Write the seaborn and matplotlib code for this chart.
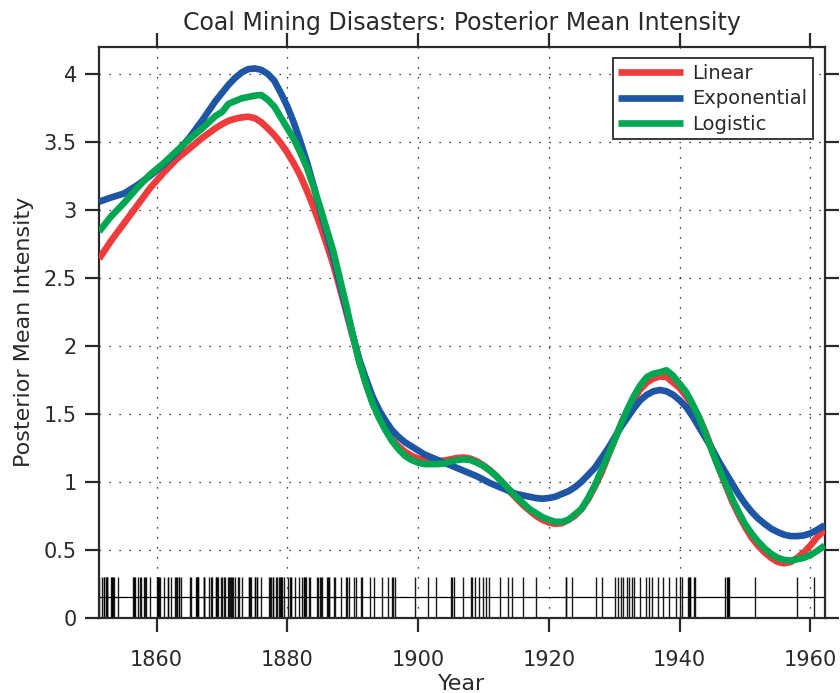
import matplotlib
matplotlib.use("Agg")
import matplotlib.pyplot as plt
import seaborn as sns
import pandas as pd

# ---------------- data ----------------
years_linear = [1851.2, 1853, 1855, 1857, 1859, 1861, 1863, 1865, 1867, 1869, 1870, 1871, 1872,
                1873, 1874, 1875, 1876, 1877, 1878, 1879, 1880, 1881, 1882, 1883, 1884, 1885,
                1886, 1887, 1888, 1889, 1890, 1891, 1892, 1893, 1894, 1895, 1896, 1897, 1898,
                1899, 1900, 1902, 1904, 1905, 1906, 1907, 1908, 1909, 1910, 1911, 1912, 1913,
                1914, 1915, 1916, 1917, 1918, 1919, 1920, 1921, 1922, 1923, 1924, 1925, 1926,
                1927, 1928, 1929, 1930, 1931, 1932, 1933, 1934, 1935, 1936, 1937, 1938, 1939,
                1940, 1941, 1942, 1943, 1944, 1945, 1946, 1947, 1948, 1949, 1950, 1951, 1952,
                1953, 1954, 1955, 1956, 1957, 1958, 1959, 1960, 1961, 1962.2]
linear = [2.64, 2.77, 2.90, 3.03, 3.16, 3.27, 3.37, 3.45, 3.53, 3.60, 3.63, 3.655, 3.67,
          3.68, 3.685, 3.675, 3.645, 3.60, 3.55, 3.49, 3.42, 3.34, 3.25, 3.14, 3.02, 2.89,
          2.75, 2.60, 2.43, 2.25, 2.07, 1.89, 1.73, 1.59, 1.48, 1.39, 1.31, 1.26, 1.22,
          1.19, 1.17, 1.15, 1.155, 1.165, 1.175, 1.178, 1.17, 1.15, 1.12, 1.085, 1.04, 0.99,
          0.93, 0.88, 0.83, 0.79, 0.75, 0.72, 0.70, 0.69, 0.695, 0.72, 0.75, 0.80, 0.87,
          0.96, 1.06, 1.18, 1.30, 1.42, 1.52, 1.61, 1.68, 1.73, 1.76, 1.775, 1.77, 1.73,
          1.69, 1.63, 1.56, 1.47, 1.36, 1.23, 1.10, 0.98, 0.86, 0.76, 0.67, 0.59, 0.53,
          0.48, 0.44, 0.41, 0.40, 0.41, 0.44, 0.48, 0.53, 0.59, 0.645]

years_exponential = [1851.2, 1853, 1855, 1857, 1859, 1861, 1863, 1865, 1867, 1868, 1869, 1870,
                     1871, 1872, 1873, 1874, 1875, 1876, 1877, 1878, 1879, 1880, 1881, 1882,
                     1883, 1884, 1885, 1886, 1887, 1888, 1889, 1890, 1891, 1892, 1893, 1894,
                     1895, 1896, 1897, 1898, 1899, 1901, 1903, 1905, 1907, 1909, 1911, 1913,
                     1915, 1917, 1918, 1919, 1920, 1921, 1922, 1923, 1924, 1925, 1926, 1927,
                     1928, 1929, 1930, 1931, 1932, 1933, 1934, 1935, 1936, 1937, 1938, 1939,
                     1940, 1941, 1942, 1943, 1944, 1945, 1946, 1947, 1948, 1949, 1950, 1951,
                     1952, 1953, 1954, 1955, 1956, 1957, 1958, 1959, 1960, 1961, 1962.2]
exponential = [3.06, 3.09, 3.12, 3.18, 3.25, 3.33, 3.42, 3.53, 3.66, 3.73, 3.80, 3.86,
               3.92, 3.97, 4.01, 4.035, 4.04, 4.03, 4.00, 3.95, 3.86, 3.76, 3.64, 3.50,
               3.35, 3.18, 3.00, 2.83, 2.66, 2.46, 2.27, 2.08, 1.90, 1.76, 1.63, 1.53,
               1.45, 1.38, 1.33, 1.29, 1.26, 1.20, 1.16, 1.12, 1.08, 1.04, 0.99, 0.95,
               0.91, 0.89, 0.88, 0.875, 0.88, 0.89, 0.91, 0.93, 0.96, 1.00, 1.05, 1.10,
               1.17, 1.24, 1.32, 1.40, 1.47, 1.54, 1.60, 1.64, 1.665, 1.675, 1.665, 1.64,
               1.60, 1.55, 1.48, 1.40, 1.32, 1.24, 1.15, 1.07, 0.99, 0.91, 0.84, 0.78,
               0.73, 0.69, 0.655, 0.63, 0.61, 0.60, 0.60, 0.605, 0.62, 0.645, 0.68]

years_logistic = [1851.2, 1853, 1855, 1857, 1859, 1861, 1863, 1865, 1867, 1868, 1869, 1870,
                  1871, 1872, 1873, 1874, 1875, 1876, 1877, 1878, 1879, 1880, 1881, 1882,
                  1883, 1884, 1885, 1886, 1887, 1888, 1889, 1890, 1891, 1892, 1893, 1894,
                  1895, 1896, 1897, 1898, 1899, 1900, 1901, 1903, 1904, 1905, 1906, 1907,
                  1908, 1909, 1910, 1911, 1912, 1913, 1914, 1915, 1916, 1917, 1918, 1919,
                  1920, 1921, 1922, 1923, 1924, 1925, 1926, 1927, 1928, 1929, 1930, 1931,
                  1932, 1933, 1934, 1935, 1936, 1937, 1938, 1939, 1940, 1941, 1942, 1943,
                  1944, 1945, 1946, 1947, 1948, 1949, 1950, 1951, 1952, 1953, 1954, 1955,
                  1956, 1957, 1958, 1959, 1960, 1961, 1962.2]
logistic = [2.84, 2.95, 3.05, 3.16, 3.26, 3.34, 3.43, 3.52, 3.60, 3.645, 3.69, 3.72,
            3.78, 3.80, 3.82, 3.83, 3.84, 3.845, 3.81, 3.76, 3.68, 3.60, 3.52, 3.42,
            3.31, 3.17, 3.02, 2.86, 2.70, 2.50, 2.30, 2.08, 1.88, 1.72, 1.58, 1.47,
            1.38, 1.30, 1.24, 1.19, 1.16, 1.14, 1.13, 1.13, 1.135, 1.15, 1.16, 1.165,
            1.16, 1.14, 1.115, 1.08, 1.04, 0.99, 0.94, 0.89, 0.845, 0.80, 0.77, 0.74,
            0.72, 0.705, 0.705, 0.72, 0.76, 0.80, 0.88, 0.97, 1.08, 1.19, 1.30, 1.42,
            1.53, 1.63, 1.71, 1.77, 1.795, 1.805, 1.82, 1.78, 1.72, 1.66, 1.57, 1.47,
            1.35, 1.22, 1.10, 0.99, 0.88, 0.78, 0.69, 0.62, 0.56, 0.51, 0.47, 0.44,
            0.425, 0.42, 0.43, 0.44, 0.46, 0.49, 0.53]

disaster_dates = [
    1851.203, 1851.632, 1851.969, 1851.975, 1852.314, 1852.347, 1852.358, 1852.385, 1852.977,
    1853.196, 1853.229, 1853.319, 1853.500, 1854.135, 1856.396, 1856.506, 1856.539, 1856.618,
    1857.138, 1857.404, 1857.582, 1858.091, 1858.154, 1858.406, 1858.945, 1860.125, 1860.168,
    1860.232, 1860.248, 1860.364, 1860.523, 1861.079, 1861.694, 1861.748, 1862.123, 1862.820,
    1862.900, 1863.123, 1863.348, 1863.390, 1863.762, 1865.148, 1865.307, 1866.015, 1866.167,
    1866.216, 1866.227, 1866.363, 1866.372, 1867.173, 1867.240, 1867.304, 1868.044, 1868.244,
    1868.422, 1869.019, 1869.088, 1869.202, 1869.449, 1869.775, 1870.067, 1870.285, 1870.512,
    1870.845, 1871.112, 1871.218, 1871.341, 1871.575, 1871.681, 1872.000, 1872.460, 1872.655,
    1873.008, 1874.094, 1874.189, 1874.356, 1874.455, 1875.045, 1875.125, 1875.284, 1875.317,
    1876.027, 1877.141, 1877.399, 1877.478, 1877.740, 1877.809, 1878.274, 1878.445, 1878.691,
    1878.803, 1878.994, 1879.074, 1879.214, 1879.444, 1880.148, 1880.468, 1880.524, 1880.609,
    1881.218, 1881.726, 1882.178, 1882.474, 1882.524, 1882.630, 1882.784, 1883.381, 1883.449,
    1884.485, 1884.726, 1885.046, 1885.102, 1885.361, 1886.047, 1886.164, 1886.309, 1886.440,
    1887.069, 1887.219, 1888.205, 1889.014, 1889.066, 1889.474, 1890.178, 1890.487, 1891.216,
    1891.348, 1892.646, 1893.263, 1894.427, 1895.388, 1896.079, 1896.101, 1896.453, 1899.596,
    1901.493, 1902.705, 1905.071, 1905.218, 1905.420, 1906.800, 1908.134, 1908.300, 1908.640,
    1909.250, 1909.860, 1910.380, 1910.900, 1912.570, 1913.750, 1914.360, 1916.050, 1918.000,
    1922.620, 1922.700, 1923.550, 1927.270, 1928.140, 1930.180, 1930.550, 1931.000, 1931.360,
    1931.970, 1932.300, 1932.650, 1932.990, 1933.950, 1934.800, 1935.300, 1935.800, 1936.670,
    1937.500, 1938.400, 1939.450, 1940.000, 1940.300, 1941.300, 1941.420, 1941.550, 1941.650,
    1942.200, 1942.400, 1946.950, 1947.300, 1947.400, 1947.480, 1947.550, 1951.500, 1957.950,
    1960.550, 1962.227]

models = ["Linear", "Exponential", "Logistic"]
colors = ["#EE3B3B", "#1E55A5", "#00A651"]
x_ticks = [1860, 1880, 1900, 1920, 1940, 1960]
y_ticks = [0, 0.5, 1, 1.5, 2, 2.5, 3, 3.5, 4]
y_tick_labels = ["0", "0.5", "1", "1.5", "2", "2.5", "3", "3.5", "4"]
rug_top = 0.3
rug_mid = 0.15

# ---------------- figure ----------------
sns.set_theme(style="white")
plt.rcParams["font.family"] = ["DejaVu Sans"]
plt.rcParams["text.color"] = "#2a2a2a"
plt.rcParams["lines.solid_joinstyle"] = "round"
plt.rcParams["lines.solid_capstyle"] = "butt"

fig = plt.figure(figsize=(8.4, 6.93), dpi=100)
ax = fig.add_axes([0.118, 0.1087, 0.864, 0.8239])

df = pd.concat([
    pd.DataFrame({"Year": years_linear, "Intensity": linear, "Model": "Linear"}),
    pd.DataFrame({"Year": years_exponential, "Intensity": exponential, "Model": "Exponential"}),
    pd.DataFrame({"Year": years_logistic, "Intensity": logistic, "Model": "Logistic"}),
], ignore_index=True)

xmin, xmax = min(disaster_dates), max(disaster_dates)
ymin, ymax = 0, 4.2

# rug of disaster dates
sns.rugplot(x=disaster_dates, ax=ax, height=rug_top / (ymax - ymin), color="black",
            lw=0.85, alpha=0.9, expand_margins=False)
ax.axhline(rug_mid, color="black", lw=0.9, zorder=2)

sns.lineplot(data=df, x="Year", y="Intensity", hue="Model", hue_order=models,
             palette=dict(zip(models, colors)), lw=4.8, ax=ax, sort=True,
             estimator=None, zorder=3)

ax.set_xlim(xmin, xmax)
ax.set_ylim(ymin, ymax)
ax.set_xticks(x_ticks)
ax.set_xticklabels([str(t) for t in x_ticks])
ax.set_yticks(y_ticks)
ax.set_yticklabels(y_tick_labels)

ax.grid(True, color="black", linestyle=(0, (1, 7)), lw=0.9)
ax.set_axisbelow(True)

ax.tick_params(axis="both", which="major", direction="out", length=10, width=1.6,
               colors="#2a2a2a", labelsize=15, top=True, right=True,
               bottom=True, left=True, pad=6)
ax.tick_params(axis="x", pad=13)
for s in ax.spines.values():
    s.set_color("#2a2a2a")
    s.set_linewidth(1.6)
    s.set_visible(True)

ax.set_xlabel("Year", fontsize=16, labelpad=3, color="#2a2a2a")
ax.set_ylabel("Posterior Mean Intensity", fontsize=16, labelpad=7, color="#2a2a2a")
ax.set_title("Coal Mining Disasters: Posterior Mean Intensity", fontsize=17,
             pad=12, color="#2a2a2a")

leg = ax.legend(loc="upper right", fontsize=14, handlelength=3.3, handletextpad=0.5,
                labelspacing=0.32, borderaxespad=0.6, borderpad=0.3, frameon=True,
                fancybox=False, framealpha=1)
leg.get_frame().set_edgecolor("#2a2a2a")
leg.get_frame().set_linewidth(1.3)
for h in leg.get_lines():
    h.set_linewidth(4.8)

fig.savefig("out.png", dpi=100)
